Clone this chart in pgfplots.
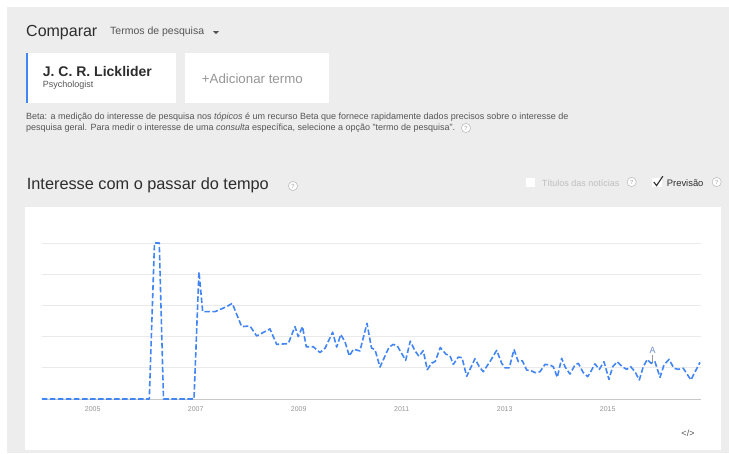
\documentclass[border=0pt]{standalone}
\usepackage{fontspec}
\setmainfont{Liberation Sans}
\usepackage{pgfplots}
\pgfplotsset{compat=1.18}

\definecolor{bg}{RGB}{238,237,238}
\definecolor{trendblue}{RGB}{66,133,244}
\definecolor{gridgray}{RGB}{234,234,234}
\definecolor{basegray}{RGB}{200,200,200}
\definecolor{lbl}{RGB}{150,150,150}
\definecolor{dark}{RGB}{45,45,45}
\definecolor{mid}{RGB}{85,85,85}
\definecolor{light}{RGB}{190,190,190}
\definecolor{annot}{RGB}{110,140,200}

\newcommand{\fs}[1]{\fontsize{#1}{#1}\selectfont}
\newcommand{\qicon}[2]{%
  \draw[light, line width=0.6pt, fill=white] (#1,#2) circle (4.6);
  \node[text=light, font=\fs{6}\bfseries] at (#1,#2) {?};}

\begin{document}
\begin{tikzpicture}
% page and panels
\fill[white] (0pt,0pt) rectangle (729pt,-453pt);
\fill[bg] (7pt,-7pt) rectangle (729pt,-453pt);
\fill[white] (25pt,-207pt) rectangle (721pt,-450pt);

\begin{axis}[
  at={(42pt,-399pt)}, anchor=south west,
  scale only axis, width=659pt, height=156pt,
  xmin=2004.016, xmax=2016.812, ymin=0, ymax=100,
  clip=false,
  axis line style={draw=none},
  major tick length=0pt,
  xtick={2005,2007,...,2015},
  ytick={20,40,60,80,100}, yticklabels={},
  ymajorgrids, grid style={gridgray, line width=0.8pt},
  extra y ticks={0}, extra y tick labels={},
  extra y tick style={grid style={basegray, line width=1pt}},
  xticklabel style={font=\fs{7}, text=lbl, yshift=-4pt},
  /pgf/number format/1000 sep={},
  /pgf/number format/assume math mode=true,
]
\draw[lbl, line width=0.6pt] (axis cs:2015.874,28.2) -- (axis cs:2015.874,23.1);
\node[font=\fs{9}, text=annot] at (axis cs:2015.874,31.4) {A};
\addplot[trendblue, line width=1.6pt, dash pattern=on 5.5pt off 2.5pt, line join=round] coordinates {
(2004.016,0) (2006.099,0) (2006.200,100) (2006.293,100) (2006.375,0) (2006.967,0)
(2007.064,81.6) (2007.136,56) (2007.375,56) (2007.481,57.5) (2007.588,59) (2007.711,61.3)
(2007.893,46.4) (2008.054,46.8) (2008.184,40.4) (2008.315,42.7) (2008.443,44.9) (2008.573,35)
(2008.798,35.5) (2008.928,46.4) (2008.992,40) (2009.074,46.4) (2009.148,33.5) (2009.283,33.5)
(2009.414,29.8) (2009.511,32.5) (2009.660,42.8) (2009.738,33.3) (2009.817,41.3) (2009.899,36.7)
(2009.983,27.6) (2010.064,31.9) (2010.190,30.8) (2010.326,48.5) (2010.414,32.7) (2010.482,31.6)
(2010.579,20.5) (2010.754,33.2) (2010.837,35) (2010.915,34) (2011.078,24.8) (2011.167,37.1)
(2011.258,30.9) (2011.336,27.4) (2011.419,31) (2011.497,18.8) (2011.583,23) (2011.652,24.1)
(2011.750,33) (2011.860,28.7) (2011.938,27.7) (2012.002,22.2) (2012.099,26.9) (2012.171,26.5)
(2012.262,14.5) (2012.423,25.8) (2012.507,20.7) (2012.584,17.5) (2012.724,24.5) (2012.845,31.2)
(2012.942,22.9) (2013.006,20) (2013.089,20) (2013.181,31.8) (2013.264,23.9) (2013.342,24.6)
(2013.427,18.6) (2013.511,18.2) (2013.588,16.9) (2013.686,17.5) (2013.783,22.2) (2013.880,21.8)
(2013.944,20.7) (2014.021,13.9) (2014.107,26.1) (2014.171,20.7) (2014.268,16) (2014.365,21.8)
(2014.429,22.9) (2014.526,16.9) (2014.612,14.3) (2014.689,18.6) (2014.753,22.5) (2014.837,19)
(2014.928,23.9) (2015.025,12.6) (2015.097,20.7) (2015.186,23.9) (2015.283,20.7) (2015.369,19)
(2015.447,20.7) (2015.530,17.5) (2015.614,12.2) (2015.691,20.7) (2015.769,25.4) (2015.841,22.9)
(2015.918,23.9) (2016.016,13.9) (2016.093,21.8) (2016.190,25.4) (2016.287,19.7) (2016.371,19)
(2016.468,19.7) (2016.617,12.2) (2016.715,18.6) (2016.792,23.5)
};
\end{axis}

\begin{scope}[x=1pt, y=-1pt]
% header
\node[anchor=base west, inner sep=0, text=dark, font=\fs{16}] at (26,36) {Comparar};
\node[anchor=base west, inner sep=0, text=mid, font=\fs{10.5}] at (110,34.3) {Termos de pesquisa};
\fill[mid] (213,31) -- (219,31) -- (216,34) -- cycle;

% term cards
\fill[white] (26,53) rectangle (176,103);
\fill[trendblue] (26,53) rectangle (28,103);
\node[anchor=base west, inner sep=0, text=dark, font=\fs{14}\bfseries] at (42.7,76) {J. C. R. Licklider};
\node[anchor=base west, inner sep=0, text=mid, font=\fs{9}] at (42.7,87.7) {Psychologist};
\fill[white] (185,53) rectangle (329,103);
\node[anchor=base west, inner sep=0, text=lbl, font=\fs{13.3}] at (201.7,83.3) {+Adicionar termo};

% beta note
\node[anchor=base west, inner sep=0, text=mid, font=\fs{9}] at (26,119.8)
  {Beta: a medição do interesse de pesquisa nos \textit{tópicos} é um recurso Beta que fornece rapidamente dados precisos sobre o interesse de};
\node[anchor=base west, inner sep=0, text=mid, font=\fs{9}] at (26,130.6)
  {pesquisa geral. Para medir o interesse de uma \textit{consulta} específica, selecione a opção "termo de pesquisa".};
\qicon{466}{128}

% section title and controls
\node[anchor=base west, inner sep=0, text=dark, font=\fs{16.3}] at (26.7,189.3) {Interesse com o passar do tempo};
\qicon{293}{186}
\fill[white] (525.7,177.7) rectangle (535,186.7);
\node[anchor=base west, inner sep=0, text=light, font=\fs{9}] at (541.7,186) {Títulos das notícias};
\qicon{631.7}{182}
\fill[white] (652,177.5) rectangle (662,187);
\draw[dark, line width=1.1pt] (653.8,182) -- (656.6,185.6) -- (662.8,176.2);
\node[anchor=base west, inner sep=0, text=dark, font=\fs{9.4}] at (666.7,186) {Previsão};
\qicon{716.7}{182}

% embed icon
\node[text=mid, font=\fs{9}] at (688,433) {</>};
\end{scope}
\end{tikzpicture}
\end{document}
